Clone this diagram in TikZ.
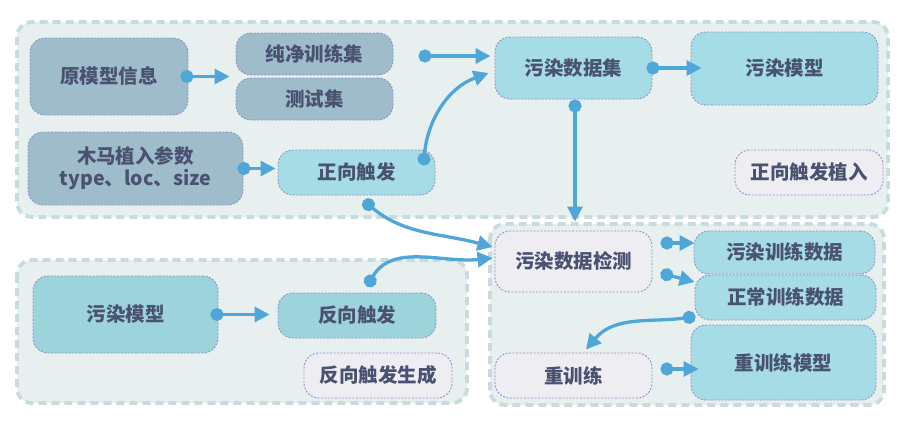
\documentclass[tikz,border=0pt]{standalone}
\usepackage{fontspec}
\setmainfont{Noto Sans CJK SC}
\usetikzlibrary{arrows.meta,calc}
\definecolor{grpbg}{HTML}{E7F0EF}
\definecolor{grpline}{HTML}{C8DCDF}
\definecolor{boxline}{HTML}{8F90CC}
\definecolor{txt}{HTML}{4A5272}
\definecolor{slate}{HTML}{9FBCCB}
\definecolor{cyanbox}{HTML}{A6DCE6}
\definecolor{tealbox}{HTML}{9DD4DC}
\definecolor{lightbox}{HTML}{EEEEF2}
\definecolor{arr}{HTML}{4FA7D9}
\tikzset{
  grp/.style={rounded corners=15pt, fill=grpbg, draw=grpline, line width=3.8pt, dash pattern=on 8pt off 5pt},
  box/.style={rounded corners=15pt, draw=boxline, line width=0.9pt, dash pattern=on 2pt off 1.5pt,
    text=txt, font=\fontsize{19.5}{24}\selectfont\bfseries, inner sep=0pt, align=center},
  conn/.style={draw=arr, line width=3.3pt, {Circle[length=13pt]}-{Triangle[length=15pt,width=15pt]}}
}
\begin{document}
\begin{tikzpicture}[x=1pt,y=-1pt]
\useasboundingbox (0,0) rectangle (906,426);
\fill[white] (0,0) rectangle (906,426);
% groups
\draw[grp] (17,22) rectangle (888,217);
\draw[grp] (17,260) rectangle (467,403);
\draw[grp] (490,224) rectangle (884,405);
% nodes
\node[box, fill=slate, minimum width=158pt, minimum height=77pt] (orig) at (109,76.5) {原模型信息};
\node[box, fill=slate, minimum width=157pt, minimum height=42pt] (clean) at (314.5,54) {纯净训练集};
\node[box, fill=slate, minimum width=157pt, minimum height=42pt] (test) at (314.5,99) {测试集};
\node[box, fill=slate, minimum width=215pt, minimum height=73pt] (trojan) at (135.5,168.5) {木马植入参数\\[-2pt]type、loc、size};
\node[box, fill=cyanbox, minimum width=157pt, minimum height=45pt] (fwd) at (356.5,172.5) {正向触发};
\node[box, fill=cyanbox, minimum width=157pt, minimum height=62pt] (pds) at (573.5,68) {污染数据集};
\node[box, fill=cyanbox, minimum width=187pt, minimum height=73pt] (pmA) at (784.5,68.5) {污染模型};
\node[box, fill=lightbox, minimum width=148pt, minimum height=45pt] (fwdplant) at (809,172.5) {正向触发植入};
\node[box, fill=tealbox, minimum width=185pt, minimum height=77pt] (pmB) at (125.5,314.5) {污染模型};
\node[box, fill=tealbox, minimum width=158pt, minimum height=45pt] (rev) at (357,315.5) {反向触发};
\node[box, fill=lightbox, minimum width=148pt, minimum height=45pt] (revgen) at (378,375.5) {反向触发生成};
\node[box, fill=lightbox, minimum width=157pt, minimum height=61pt] (det) at (573.5,261.5) {污染数据检测};
\node[box, fill=cyanbox, minimum width=181pt, minimum height=43pt] (ptd) at (784.5,252.5) {污染训练数据};
\node[box, fill=cyanbox, minimum width=181pt, minimum height=45pt] (ntd) at (785.5,297.5) {正常训练数据};
\node[box, fill=lightbox, minimum width=157pt, minimum height=45pt] (rt) at (573.5,375.5) {重训练};
\node[box, fill=cyanbox, minimum width=185pt, minimum height=75pt] (rtm) at (783.5,362.5) {重训练模型};
% connectors
\draw[conn] ([xshift=-8pt]orig.east) -- ([xshift=-6pt]clean.south west |- orig.east);
\draw[conn] ([xshift=25pt,yshift=-2pt]clean.east) -- ([xshift=-4pt,yshift=12pt]pds.west);
\draw[conn] ([xshift=-12pt,yshift=7pt]fwd.east) to[out=85,in=200] ([xshift=-6pt,yshift=-5pt]pds.west);
\draw[conn] ([xshift=-6pt]trojan.east) -- ([xshift=-2pt]fwd.west |- trojan.east);
\draw[conn] ([xshift=-6pt]pds.east) -- ([xshift=11pt]pmA.west |- pds.east);
\draw[conn] ([xshift=1.5pt]pds.south) -- ([xshift=1.5pt,yshift=9pt]det.north);
\draw[conn] ([xshift=7pt,yshift=-5pt]fwd.south) to[out=-40,in=165] ([xshift=-2pt,yshift=14.5pt]det.west);
\draw[conn] ([xshift=10pt,yshift=6pt]rev.north) to[out=60,in=186] ([xshift=-2pt,yshift=3.5pt]det.west);
\draw[conn] ([xshift=8pt,yshift=18.5pt]det.east) -- ([xshift=1pt,yshift=9.5pt]ptd.west);
\draw[conn] ([xshift=8pt,yshift=-11.5pt]det.east) -- ([yshift=15.5pt]ntd.west);
\draw[conn] ([xshift=1pt,yshift=4pt]ntd.south west) to[out=188,in=50] ([xshift=12.5pt,yshift=3pt]rt.north);
\draw[conn] ([xshift=8pt,yshift=6.5pt]rt.east) -- ([xshift=8pt,yshift=6.5pt]rt.east -| rtm.west);
\draw[conn] ([xshift=-8pt]pmB.east) -- ([xshift=-8pt]pmB.east -| rev.west);
\end{tikzpicture}
\end{document}
